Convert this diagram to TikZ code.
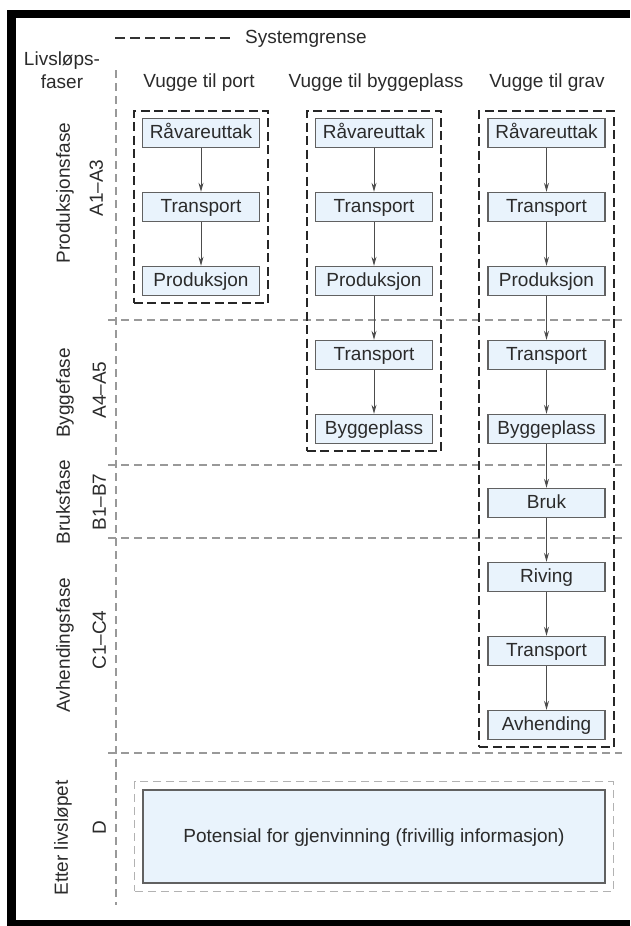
\documentclass[tikz,border=0pt]{standalone}
\usepackage{fontspec}
\setmainfont{Liberation Sans}
\usetikzlibrary{arrows.meta,fit}

\definecolor{boxblue}{HTML}{E9F3FC}
\definecolor{txtgray}{HTML}{2B2B2B}
\definecolor{sepgray}{HTML}{999999}

\tikzset{
  lbl/.style={text=txtgray, font=\fontsize{19}{23}\selectfont, text height=13.5pt, text depth=2pt, inner sep=0pt},
  phase/.style={lbl, rotate=90},
  box/.style={lbl, draw=black!62, line width=1.4pt, fill=boxblue, minimum width=117pt, minimum height=29pt},
  arr/.style={draw=black!70, line width=1pt, -{Stealth[length=9pt,width=5pt]}},
  sysbound/.style={draw=black!85, line width=2.2pt, dash pattern=on 9pt off 4.5pt, inner xsep=8pt, inner ysep=7pt},
  sepline/.style={draw=sepgray, line width=1.5pt, dash pattern=on 8pt off 5pt},
}

\begin{document}
\begin{tikzpicture}[x=1pt,y=-1pt]
\useasboundingbox (0,0) rectangle (630,926);
\fill[black] (7,10) rectangle (630,18);
\fill[black] (7,10) rectangle (16,926);
\fill[black] (7,920) rectangle (630,926);

% legend and headings
\coordinate (leg) at (115,38);
\node[lbl, anchor=west] (sysg) at (245,38) {Systemgrense};
\draw[black!80, line width=2.5pt, dash pattern=on 10pt off 5pt] (leg) -- ++(115,0);
\node[lbl, align=center, text height=, text depth=] (lf) at (62,70) {Livsløps-\\faser};
\node[lbl] (h1) at (199,82) {Vugge til port};
\node[lbl] (h2) at (376,82) {Vugge til byggeplass};
\node[lbl] (h3) at (547,82) {Vugge til grav};

\node[phase] (p1) at (64,193) {Produksjonsfase};
\node[phase] (c1) at (97,188) {A1–A3};
\node[phase] (p2) at (64,393) {Byggefase};
\node[phase] (c2) at (100,390) {A4–A5};
\node[phase] (p3) at (64,502) {Bruksfase};
\node[phase] (c3) at (100,502) {B1–B7};
\node[phase] (p4) at (64,645) {Avhendingsfase};
\node[phase] (c4) at (100,640) {C1–C4};
\node[phase] (p5) at (62,838) {Etter livsløpet};
\node[phase] (c5) at (100,828) {D};

% phase separators
\coordinate (vtop) at (116,70);
\coordinate (vbot) at (116,905);
\draw[sepline] (vtop) -- (vbot);
\foreach \y [count=\i] in {320,465,538,753}{
  \coordinate (sl\i) at (108,\y);
  \coordinate (sr\i) at (622,\y);
  \draw[sepline] (sl\i) -- (sr\i);
}

% columns
\foreach \t [count=\i] in {Råvareuttak,Transport,Produksjon}
  \node[box] (a\i) at (201,59+74*\i) {\t};
\foreach \t [count=\i] in {Råvareuttak,Transport,Produksjon,Transport,Byggeplass}
  \node[box] (b\i) at (374,59+74*\i) {\t};
\foreach \t [count=\i] in {Råvareuttak,Transport,Produksjon,Transport,Byggeplass,Bruk,Riving,Transport,Avhending}
  \node[box] (g\i) at (546.5,59+74*\i) {\t};

\foreach \i in {1,2}{\pgfmathtruncatemacro\j{\i+1} \draw[arr] (a\i) -- (a\j);}
\foreach \i in {1,...,4}{\pgfmathtruncatemacro\j{\i+1} \draw[arr] (b\i) -- (b\j);}
\foreach \i in {1,...,8}{\pgfmathtruncatemacro\j{\i+1} \draw[arr] (g\i) -- (g\j);}

\node[sysbound, fit=(a1)(a3)] (sb1) {};
\node[sysbound, fit=(b1)(b5)] (sb2) {};
\node[sysbound, fit=(g1)(g9)] (sb3) {};

% module D
\node[box, line width=1.5pt, minimum width=462pt, minimum height=93pt] (pot) at (374,836.5) {Potensial for gjenvinning (frivillig informasjon)};
\node[draw=black!30, line width=1.2pt, dash pattern=on 8pt off 5pt, fit=(pot), inner sep=7.5pt] (potb) {};
\end{tikzpicture}
\end{document}
